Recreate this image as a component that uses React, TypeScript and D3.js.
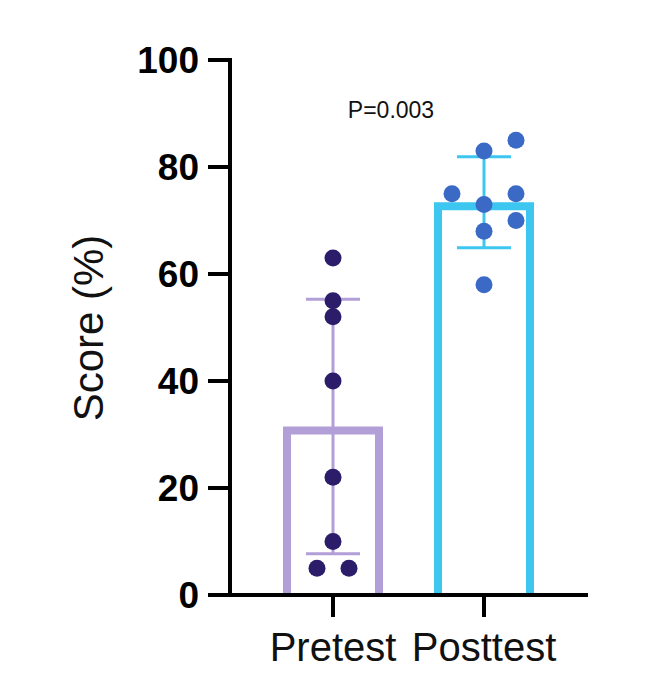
import React from 'react'
import * as d3 from 'd3'

const groups = ['Pretest', 'Posttest']
const means = [31.5, 73.4]
const sds = [23.8, 8.5]
const pretestPoints = [63, 55, 52, 40, 22, 10, 5, 5]
const posttestPoints = [85, 83, 75, 75, 73, 70, 68, 58]
// horizontal jitter offsets (in dot widths)
const pretestJitter = [0, 0, 0, 0, 0, 0, -0.5, 0.5]
const posttestJitter = [1, 0, -1, 1, 0, 1, 0, 0]
const yTicks = [0, 20, 40, 60, 80, 100]
const pLabel = 'P=0.003'

const barColors = ['#b39fd8', '#3cc6f0']
const dotColors = ['#2c1d6b', '#3a6ac6']

export default function App(){
  const width = 665, height = 677
  const y = d3.scaleLinear().domain([0, 100]).range([595, 60])
  const x = d3.scalePoint().domain(groups).range([333, 484])
  const bw = 100
  const sw = 8
  const cx = (g: string) => x(g) as number
  const pointSets = [pretestPoints, posttestPoints]
  const jitters = [pretestJitter, posttestJitter]
  const axisX = 230
  const font = '"Liberation Sans", Arial, sans-serif'

  return (
    <svg width={width} height={height} style={{display:'block', margin:'-8px'}}>
      <rect width={width} height={height} fill="#fff" />
      {/* bars: border drawn inside the bar outline */}
      {groups.map((g, i) => (
        <path key={g}
          d={`M${cx(g) - bw/2 + sw/2},${y(0)} V${y(means[i]) + sw/2} H${cx(g) + bw/2 - sw/2} V${y(0)}`}
          fill="none" stroke={barColors[i]} strokeWidth={sw} />
      ))}
      {/* error bars */}
      {groups.map((g, i) => {
        const c = cx(g)
        return (
          <g key={g} stroke={barColors[i]} strokeWidth={3}>
            <line x1={c} x2={c} y1={y(means[i] + sds[i])} y2={y(means[i] - sds[i])} />
            <line x1={c - 27} x2={c + 27} y1={y(means[i] + sds[i])} y2={y(means[i] + sds[i])} />
            <line x1={c - 27} x2={c + 27} y1={y(means[i] - sds[i])} y2={y(means[i] - sds[i])} />
          </g>
        )
      })}
      {/* points */}
      {groups.map((g, i) => pointSets[i].map((v, j) => (
        <circle key={g + j} cx={cx(g) + jitters[i][j] * 32} cy={y(v)} r={8.5} fill={dotColors[i]} />
      )))}
      {/* y axis */}
      <line x1={axisX} x2={axisX} y1={y(100) - 2} y2={y(0)} stroke="#000" strokeWidth={4} />
      {yTicks.map(t => (
        <g key={t}>
          <line x1={axisX - 22} x2={axisX} y1={y(t)} y2={y(t)} stroke="#000" strokeWidth={4} />
          <text x={199} y={y(t)} dy="0.36em" textAnchor="end" fontFamily={font}
            fontWeight="bold" fontSize={37} fill="#000">{t}</text>
        </g>
      ))}
      {/* x axis */}
      <line x1={axisX - 10} x2={588} y1={y(0)} y2={y(0)} stroke="#000" strokeWidth={4} />
      {groups.map(g => (
        <g key={g}>
          <line x1={cx(g)} x2={cx(g)} y1={y(0)} y2={y(0) + 22} stroke="#000" strokeWidth={4} />
          <text x={cx(g)} y={661} textAnchor="middle" fontFamily={font} fontSize={40} fill="#111">{g}</text>
        </g>
      ))}
      <text transform={`translate(103,328) rotate(-90)`} textAnchor="middle" fontFamily={font}
        fontSize={42} fill="#111">Score (%)</text>
      <text x={391} y={118} textAnchor="middle" fontFamily={font} fontSize={23} fill="#111">{pLabel}</text>
    </svg>
  )
}
